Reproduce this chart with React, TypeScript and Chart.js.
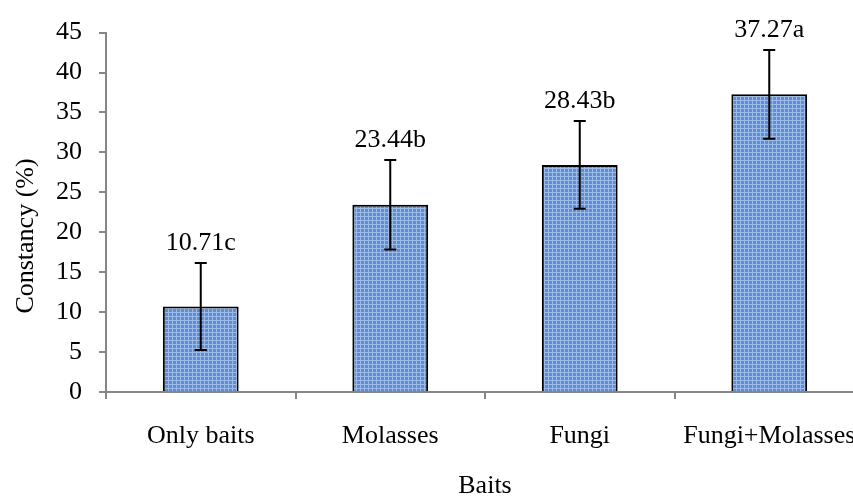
import React, { useEffect, useRef } from "react";
import { Chart, registerables } from "chart.js";

Chart.register(...registerables);

const categories = ["Only baits", "Molasses", "Fungi", "Fungi+Molasses"];
const values = [10.71, 23.44, 28.43, 37.27];
const errors = [5.45, 5.6, 5.5, 5.55];
const barLabels = ["10.71c", "23.44b", "28.43b", "37.27a"];
const yTitle = "Constancy (%)";
const xTitle = "Baits";

const FONT = "'Liberation Serif', 'Times New Roman', serif";
const FS = 26;

function makePattern(): CanvasPattern | string {
  const c = document.createElement("canvas");
  c.width = 4;
  c.height = 4;
  const g = c.getContext("2d");
  if (!g) return "#5f8fd3";
  g.fillStyle = "#5f8dd2";
  g.fillRect(0, 0, 4, 4);
  g.fillStyle = "#9dbbe8";
  g.fillRect(0, 0, 4, 1);
  g.fillRect(0, 0, 1, 4);
  const p = g.createPattern(c, "repeat");
  return p || "#5f8fd3";
}

const errorBarPlugin = {
  id: "errorBars",
  afterDatasetsDraw(chart: any) {
    const { ctx, scales } = chart;
    const x = scales.x;
    const y = scales.y;
    ctx.save();
    ctx.strokeStyle = "#000";
    ctx.lineWidth = 2;
    values.forEach((v, i) => {
      const cx = x.getPixelForValue(i);
      const top = y.getPixelForValue(v + errors[i]);
      const bot = y.getPixelForValue(v - errors[i]);
      ctx.beginPath();
      ctx.moveTo(cx, top);
      ctx.lineTo(cx, bot);
      ctx.moveTo(cx - 6, top);
      ctx.lineTo(cx + 6, top);
      ctx.moveTo(cx - 6, bot);
      ctx.lineTo(cx + 6, bot);
      ctx.stroke();
      ctx.fillStyle = "#000";
      ctx.font = `${FS}px ${FONT}`;
      ctx.textAlign = "center";
      ctx.textBaseline = "middle";
      ctx.fillText(barLabels[i], cx, top - 20);
    });
    // y axis title
    ctx.translate(26, 236);
    ctx.rotate(-Math.PI / 2);
    ctx.font = `${FS}px ${FONT}`;
    ctx.textAlign = "center";
    ctx.textBaseline = "middle";
    ctx.fillText(yTitle, 0, 0);
    ctx.restore();
  },
};

export default function App() {
  const ref = useRef<HTMLCanvasElement>(null);
  useEffect(() => {
    if (!ref.current) return;
    const chart = new Chart(ref.current, {
      type: "bar",
      data: {
        labels: categories,
        datasets: [
          {
            data: values,
            backgroundColor: makePattern() as any,
            borderColor: "#000",
            borderWidth: 2,
            barPercentage: 0.4,
            categoryPercentage: 1,
          },
        ],
      },
      options: {
        animation: false,
        responsive: false,
        maintainAspectRatio: false,
        layout: { padding: { top: 32, right: 16, left: 0, bottom: 0 } },
        plugins: {
          legend: { display: false },
          tooltip: { enabled: false },
        },
        scales: {
          x: {
            offset: true,
            border: { color: "#868686", width: 2 },
            grid: {
              drawOnChartArea: false,
              drawTicks: true,
              tickLength: 7,
              color: "#868686",
              lineWidth: 2,
              offset: true,
            },
            ticks: {
              color: "#000",
              font: { family: FONT, size: FS },
              padding: 22,
              maxRotation: 0,
              autoSkip: false,
            },
            title: {
              display: true,
              text: xTitle,
              color: "#000",
              font: { family: FONT, size: FS, lineHeight: 0.8 },
              padding: 0,
            },
            afterFit: (s: any) => {
              s.height = 105;
            },
          },
          y: {
            min: 0,
            max: 45,
            border: { color: "#868686", width: 2 },
            grid: {
              drawOnChartArea: false,
              drawTicks: true,
              tickLength: 7,
              color: "#868686",
              lineWidth: 2,
            },
            ticks: {
              stepSize: 5,
              color: "#000",
              font: { family: FONT, size: FS },
              padding: 17,
            },
            afterFit: (s: any) => {
              s.width = 106;
            },
          },
        },
      },
      plugins: [errorBarPlugin],
    });
    return () => chart.destroy();
  }, []);
  return (
    <div
      style={{
        position: "fixed",
        left: 0,
        top: 0,
        width: 853,
        height: 497,
        overflow: "hidden",
        background: "#fff",
      }}
    >
      <canvas ref={ref} width={880} height={497} />
    </div>
  );
}
